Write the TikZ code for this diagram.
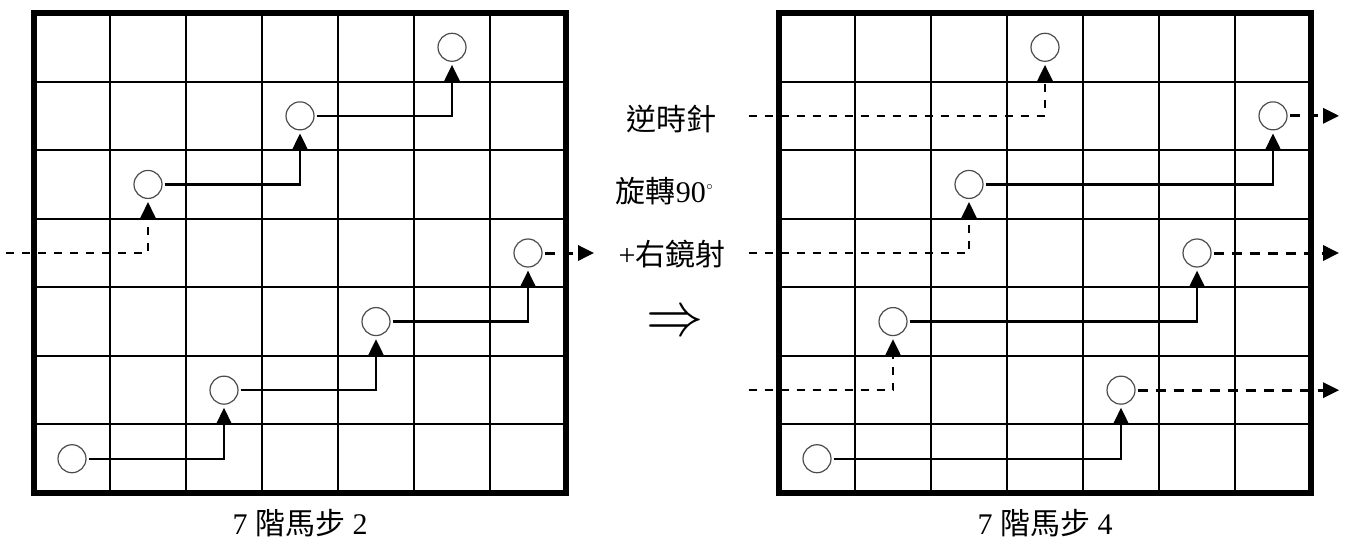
\documentclass[tikz,border=0pt]{standalone}
\usepackage{fontspec}
\setmainfont{Liberation Serif}
\newfontfamily\cjk{Noto Sans CJK TC}
\usetikzlibrary{arrows.meta}

\begin{document}
\begin{tikzpicture}[
    cell/.style = {x=38pt, y=34.286pt},
    gridline/.style = {line width=1pt},
    border/.style = {line width=3pt},
    queen/.style = {circle, draw=black!70, line width=0.6pt,
      minimum size=14pt, inner sep=0pt},
    move/.style = {line width=1.1pt, -{Triangle[length=8pt,width=7.5pt]},
      shorten >=1.5pt, shorten <=1pt},
    wrapout/.style = {move, line width=1.5pt, dash pattern=on 5pt off 4pt,
      shorten >=0pt},
    wrapin/.style = {move, dash pattern=on 4pt off 4pt, shorten <=0pt},
    txt/.style = {font=\fontsize{15pt}{18pt}\selectfont, inner sep=0pt}]
  \useasboundingbox (0,0) rectangle (676pt,274pt);

  % board 1: step 2
  \begin{scope}[cell, shift={(17pt,27.5pt)}]
    \foreach \k in {1,...,6}
      \draw[gridline] (\k,0) -- (\k,7) (0,\k) -- (7,\k);
    \draw[border] (0,0) rectangle (7,7);
    \foreach \c/\r [count=\i from 0] in {0/0,2/1,4/2,6/3,1/4,3/5,5/6}
      \node[queen] (L\i) at (\c+0.5,\r+0.5) {};
    \coordinate (Lout) at (7.37,3.5);
    \coordinate (Lin) at (-0.37,3.5);
    \foreach \a/\b in {0/1,1/2,2/3,4/5,5/6}
      \draw[move] (L\a) -- (L\a -| L\b) -- (L\b);
    \draw[wrapout] (L3) -- (Lout);
    \draw[wrapin] (Lin) -- (Lin -| L4) -- (L4);
    \node[txt] (capL) at (3.5,-0.44) {7 {\cjk 階馬步} 2};
  \end{scope}

  % board 2: step 4
  \begin{scope}[cell, shift={(389.5pt,27.5pt)}]
    \foreach \k in {1,...,6}
      \draw[gridline] (\k,0) -- (\k,7) (0,\k) -- (7,\k);
    \draw[border] (0,0) rectangle (7,7);
    \foreach \c/\r [count=\i from 0] in {0/0,4/1,1/2,5/3,2/4,6/5,3/6}
      \node[queen] (R\i) at (\c+0.5,\r+0.5) {};
    \foreach \a/\b in {0/1,2/3,4/5}
      \draw[move] (R\a) -- (R\a -| R\b) -- (R\b);
    \foreach \a/\b in {1/2,3/4,5/6} {
      \coordinate (Rout\a) at (7.37,\a+0.5);
      \coordinate (Rin\a) at (-0.4,\a+0.5);
      \draw[wrapout] (R\a) -- (Rout\a);
      \draw[wrapin] (Rin\a) -- (Rin\a -| R\b) -- (R\b);
    }
    \node[txt] (capR) at (3.5,-0.44) {7 {\cjk 階馬步} 4};
  \end{scope}

  % rotate + mirror note
  \node[txt] (rot1) at (335.5pt,214.5pt) {\cjk 逆時針};
  \node[txt] (rot2) at (332.5pt,178.5pt) {{\cjk 旋轉}90\raisebox{0.5ex}{\scriptsize$^{\circ}$}};
  \node[txt] (rot3) at (336pt,147pt) {+{\cjk 右鏡射}};
  \node (imp) at (337.5pt,112pt) {\scalebox{2.85}[3.1]{$\Rightarrow$}};
\end{tikzpicture}
\end{document}
